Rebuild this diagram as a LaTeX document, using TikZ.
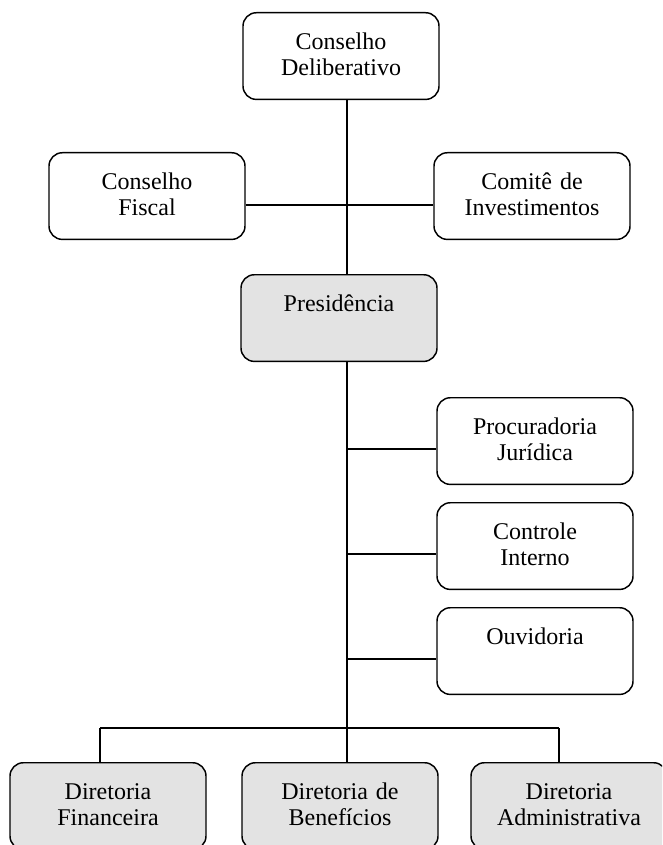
\documentclass[tikz,border=0pt]{standalone}
\usepackage{fontspec}
\setmainfont{Liberation Serif}

\tikzset{
  orgbox/.style={draw, line width=1.1pt, rounded corners=10pt, fill=white,
    anchor=north, inner sep=0pt, text width=147pt, align=center,
    text height=27.5pt, text depth=37.5pt,
    font=\fontsize{18}{19.5}\selectfont},
  dirbox/.style={orgbox, fill=gray!22},
  link/.style={line width=0.9pt}
}

\begin{document}
\begin{tikzpicture}[x=0.75pt, y=-0.75pt]

    % 1. Page frame (bottom row is cut by the edge)
    \useasboundingbox (0,0) rectangle (662,845);
    \clip (0,0) rectangle (662,845);

    % 2. Councils
    \node[orgbox] (delib)  at (341,12)  {Conselho\\Deliberativo};
    \node[orgbox] (fiscal) at (147,152) {Conselho\\Fiscal};
    \node[orgbox] (comite) at (532,152) {Comitê de\\Investimentos};

    % 3. Presidency and its staff units
    \node[dirbox] (pres)     at (339,274) {Presidência};
    \node[orgbox] (procur)   at (535,397) {Procuradoria\\Jurídica};
    \node[orgbox] (controle) at (535,502) {Controle\\Interno};
    \node[orgbox] (ouvid)    at (535,607) {Ouvidoria};

    % 4. Directorates
    \node[dirbox] (financ) at (108,762) {Diretoria\\Financeira};
    \node[dirbox] (benef)  at (340,762) {Diretoria de\\Benefícios};
    \node[dirbox] (admin)  at (569,762) {Diretoria\\Administrativa};

    % 5. Trunk and branch points
    \coordinate (mid)  at (347,205);
    \coordinate (bus)  at (347,728);
    \coordinate (busL) at (100,728);
    \coordinate (busR) at (559,728);

    \draw[link] (delib.south -| bus) -- (pres.north -| bus);
    \draw[link] (pres.south -| bus) -- (bus);
    \draw[link] (fiscal.east |- mid) -- (comite.west |- mid);

    % 6. Staff units hang off the trunk
    \foreach \n/\y in {procur/449, controle/554, ouvid/659} {
        \coordinate (b\n) at (347,\y);
        \draw[link] (b\n) -- (b\n -| \n.west);
    }

    % 7. Bus down to the directorates
    \draw[link] (busL) -- (busR);
    \draw[link] (busL) -- (busL |- financ.north);
    \draw[link] (bus)  -- (bus |- benef.north);
    \draw[link] (busR) -- (busR |- admin.north);

\end{tikzpicture}
\end{document}
